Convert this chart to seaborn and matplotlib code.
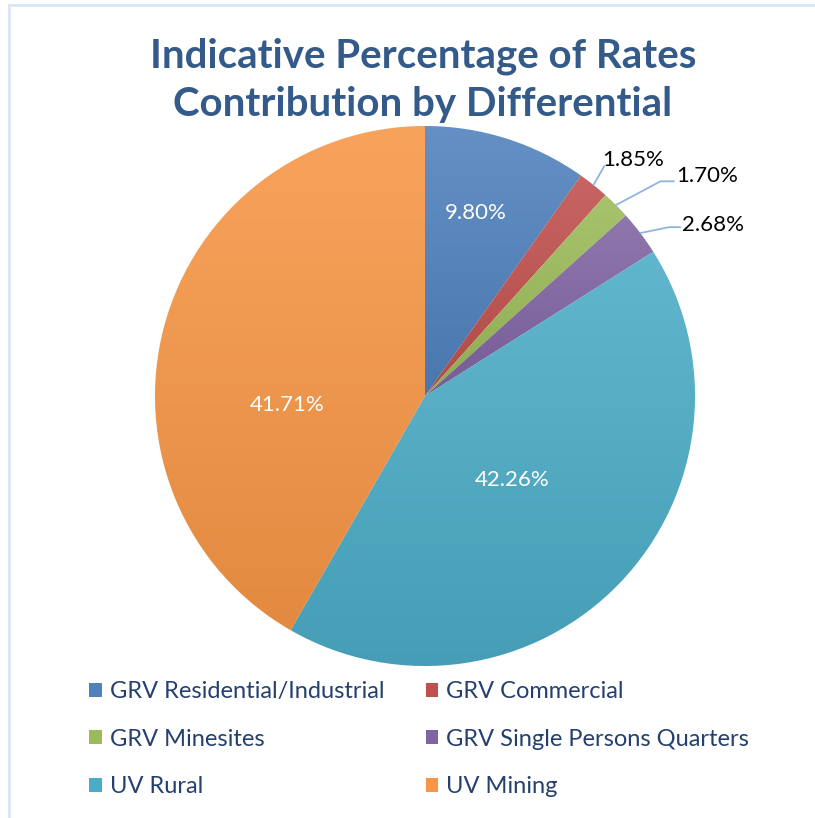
import numpy as np
import matplotlib
matplotlib.use("Agg")
import matplotlib.pyplot as plt
import matplotlib.colors as mcolors
from matplotlib.patches import Patch
import seaborn as sns

categories = ["GRV Residential/Industrial", "GRV Commercial", "GRV Minesites",
              "GRV Single Persons Quarters", "UV Rural", "UV Mining"]
shares = [9.80, 1.85, 1.70, 2.68, 42.26, 41.71]
colors = ["#4F81BD", "#C0504D", "#9BBB59", "#8064A2", "#4BACC6", "#F79646"]
title = "Indicative Percentage of Rates\nContribution by Differential"

sns.set_theme(style="white")
plt.rcParams['font.family'] = ['Lato', 'DejaVu Sans']

fig = plt.figure(figsize=(8.15, 8.18), dpi=100)
W, H = 815, 818
cx, cy, r = 425, 396, 270
ax = fig.add_axes([(cx - r) / W, (H - cy - r) / H, 2 * r / W, 2 * r / H])

wedges, _ = ax.pie(shares, colors=colors, startangle=90, counterclock=False,
                   radius=1, wedgeprops=dict(edgecolor="white", linewidth=0.8))


def shade(c, f):
    rgb = np.array(mcolors.to_rgb(c))
    return np.clip(rgb + (1 - rgb) * f, 0, 1) if f > 0 else rgb * (1 + f)


# vertical gradient on every slice, lighter on top
for w, c in zip(wedges, colors):
    ext = w.get_path().get_extents()
    top, bot = shade(c, 0.12), shade(c, -0.08)
    t = np.linspace(0, 1, 256)[:, None]
    grad = (top[None, :] * (1 - t) + bot[None, :] * t)[:, None, :]
    im = ax.imshow(grad, extent=[ext.x0, ext.x1, ext.y0, ext.y1], origin="upper",
                   aspect="auto", zorder=w.get_zorder() + 0.1, interpolation="bilinear")
    im.set_clip_path(w)

ax.set_xlim(-1, 1)
ax.set_ylim(-1, 1)
ax.set_aspect("equal")
ax.axis("off")

# inside labels
inside_pos = {0: (0.189, 0.678), 4: (0.322, -0.311), 5: (-0.511, -0.033)}
for i, (x, y) in inside_pos.items():
    ax.text(x, y, f"{shares[i]:.2f}%", color="white", fontsize=16,
            ha="center", va="center", zorder=10)

# outside labels with leader lines
outside = {1: [(0.04, 0.07)],
           2: [(0.165, 0.088), (0.215, 0.088)],
           3: [(0.107, 0.022), (0.148, 0.022)]}
label_off = {1: (0.770, 0.874), 2: (1.045, 0.815), 3: (1.067, 0.633)}
for i, offs in outside.items():
    w = wedges[i]
    mid = np.deg2rad((w.theta1 + w.theta2) / 2)
    x0, y0 = np.cos(mid), np.sin(mid)
    xs = [x0] + [x0 + dx for dx, dy in offs]
    ys = [y0] + [y0 + dy for dx, dy in offs]
    ax.plot(xs, ys, color="#8DB4E2", lw=1.3, clip_on=False, zorder=9)
    lx, ly = label_off[i]
    ax.text(lx, ly, f"{shares[i]:.2f}%", color="black", fontsize=16,
            ha="center", va="center", zorder=10)

fig.text(423 / W, 1 - 80 / H, title, ha="center", va="center", fontsize=29,
         fontweight="bold", color="#345A8A", linespacing=1.36)

handles = [Patch(facecolor=c, edgecolor="none") for c in colors]
order = [0, 2, 4, 1, 3, 5]
fig.legend([handles[i] for i in order], [categories[i] for i in order],
           ncol=2, loc="upper left", bbox_to_anchor=(68 / W, 1 - 660 / H),
           frameon=False, fontsize=17, labelcolor="#24406E",
           handlelength=0.54, handleheight=0.54, handletextpad=0.33,
           columnspacing=1.75, labelspacing=1.12)

# chart border (only left and top visible in the crop)
fig.add_artist(plt.Line2D([9 / W, 9 / W], [0, 1 - 5 / H], color="#D9E5F4", lw=2))
fig.add_artist(plt.Line2D([9 / W, 1], [1 - 5 / H, 1 - 5 / H], color="#D9E5F4", lw=2))

fig.savefig("out.png", dpi=100)
